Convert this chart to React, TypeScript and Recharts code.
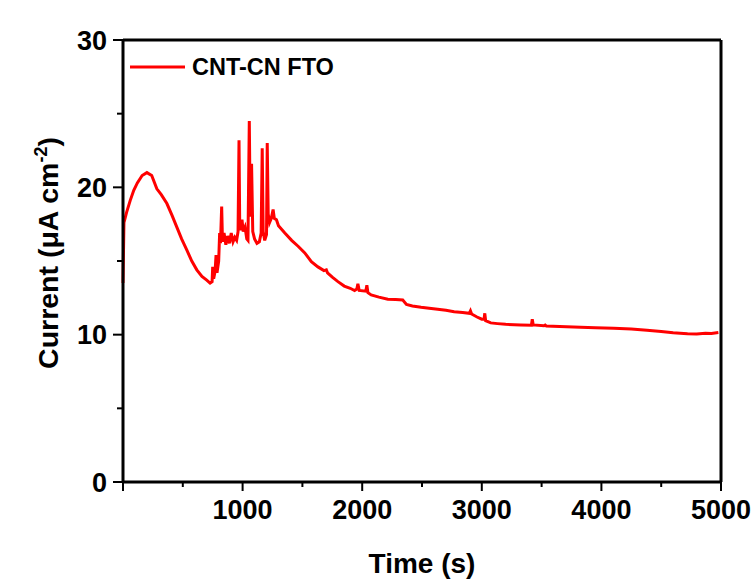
import React from 'react';
import { LineChart, Line, XAxis, YAxis, ReferenceLine, Legend } from 'recharts';

const timeValues = [
  0, 8, 30, 60, 90, 120, 160, 200, 240, 283, 320, 367, 410, 450, 490, 533, 575, 617, 660, 700,
  728, 745, 750, 758, 770, 778, 786, 800, 808, 815, 825, 832, 845, 860, 875, 890, 905, 920, 935, 950,
  962, 970, 976, 985, 995, 1005, 1020, 1035, 1045, 1056, 1064, 1075, 1085, 1100, 1120, 1140, 1155, 1164, 1172, 1185,
  1200, 1206, 1214, 1225, 1240, 1255, 1265, 1283, 1300, 1353, 1410, 1464, 1520, 1575, 1630, 1680, 1700, 1710, 1750, 1797,
  1850, 1900, 1936, 1955, 1964, 1975, 2030, 2039, 2048, 2075, 2140, 2214, 2280, 2339, 2370, 2420, 2492, 2560, 2631, 2700,
  2769, 2840, 2895, 2905, 2915, 2960, 3000, 3019, 3025, 3032, 3075, 3131, 3200, 3325, 3415, 3422, 3430, 3519, 3530, 3540,
  3650, 3825, 3950, 4103, 4250, 4381, 4500, 4600, 4658, 4720, 4797, 4870, 4920, 4978,
];

const currentValues = [
  13.5, 17.6, 18.3, 19.1, 19.8, 20.3, 20.8, 21.0, 20.8, 19.9, 19.5, 18.9, 18.1, 17.3, 16.5, 15.75, 15.0, 14.4, 13.95, 13.7,
  13.5, 13.6, 14.6, 13.8, 14.3, 15.4, 14.2, 15.0, 16.9, 16.2, 18.7, 16.3, 16.9, 16.1, 16.7, 16.2, 16.9, 16.3, 16.6, 16.4,
  17.0, 23.2, 17.4, 17.1, 17.8, 17.0, 17.3, 16.5, 16.4, 24.5, 18.0, 21.6, 17.0, 16.5, 16.2, 16.3, 16.9, 22.65, 17.0, 16.4,
  16.8, 23.0, 18.2, 17.6, 17.9, 18.5, 17.9, 17.8, 17.4, 16.9, 16.4, 16.0, 15.55, 14.95, 14.6, 14.35, 14.4, 14.2, 13.9, 13.6,
  13.3, 13.15, 13.0, 13.1, 13.45, 13.0, 12.95, 13.35, 12.85, 12.7, 12.55, 12.4, 12.38, 12.35, 12.05, 11.95, 11.86, 11.8, 11.72, 11.65,
  11.56, 11.5, 11.45, 11.62, 11.4, 11.2, 11.05, 11.05, 11.45, 10.95, 10.8, 10.75, 10.7, 10.66, 10.64, 11.05, 10.66, 10.6, 10.65, 10.58,
  10.55, 10.5, 10.47, 10.43, 10.38, 10.3, 10.22, 10.13, 10.1, 10.06, 10.05, 10.1, 10.08, 10.15,
];

const xTicks = [0, 500, 1000, 1500, 2000, 2500, 3000, 3500, 4000, 4500, 5000];
const yTicks = [0, 5, 10, 15, 20, 25, 30];
const seriesName = 'CNT-CN FTO';

const data = timeValues.map((t, i) => ({ t, v: currentValues[i] }));

const FONT = '"Liberation Sans", Arial, Helvetica, sans-serif';

const XTick = (props: any) => {
  const { x, y, payload } = props;
  const v = payload.value;
  const major = v % 1000 === 0;
  return (
    <g>
      <line x1={x} x2={x} y1={y} y2={y + (major ? 9 : 5)} stroke="#000" strokeWidth={2} />
      {major && v !== 0 && (
        <text x={x} y={y + 37} textAnchor="middle" fontFamily={FONT} fontWeight="bold" fontSize={27} fill="#000">
          {v}
        </text>
      )}
    </g>
  );
};

const YTick = (props: any) => {
  const { x, y, payload } = props;
  const v = payload.value;
  const major = v % 10 === 0;
  return (
    <g>
      <line x1={x - (major ? 10 : 6)} x2={x} y1={y} y2={y} stroke="#000" strokeWidth={2} />
      {major && (
        <text x={x - 16} y={y + 9.5} textAnchor="end" fontFamily={FONT} fontWeight="bold" fontSize={27} fill="#000">
          {v}
        </text>
      )}
    </g>
  );
};

const LegendContent = () => (
  <svg width={240} height={30} style={{ display: 'block' }}>
    <line x1={2} x2={57} y1={15} y2={15} stroke="#ff0000" strokeWidth={3} />
    <text x={64} y={23} fontFamily={FONT} fontWeight="bold" fontSize={23.5} fill="#000">
      {seriesName}
    </text>
  </svg>
);

const YLabel = (props: any) => {
  const vb = props.viewBox || { x: 0, y: 40, width: 123, height: 442 };
  const cx = 58;
  const cy = vb.y + vb.height / 2 - 8;
  return (
    <text
      x={cx}
      y={cy}
      transform={`rotate(-90, ${cx}, ${cy})`}
      textAnchor="middle"
      fontFamily={FONT}
      fontWeight="bold"
      fontSize={28.5}
      fill="#000"
    >
      Current (μA cm<tspan dy={-11} fontSize={18}>-2</tspan>
      <tspan dy={11}>)</tspan>
    </text>
  );
};

const XLabel = (props: any) => {
  const vb = props.viewBox || { x: 123, y: 482, width: 598, height: 101 };
  return (
    <text x={vb.x + vb.width / 2} y={573} textAnchor="middle" fontFamily={FONT} fontWeight="bold" fontSize={28} fill="#000">
      Time (s)
    </text>
  );
};

export default function App() {
  return (
    <div style={{ position: 'absolute', left: 0, top: 0, width: 753, height: 583, background: '#fff' }}>
      <LineChart width={753} height={583} data={data} margin={{ top: 40, right: 32, left: 0, bottom: 0 }}>
        <XAxis
          dataKey="t"
          type="number"
          domain={[0, 5000]}
          ticks={xTicks}
          interval={0}
          tickSize={0}
          tickMargin={0}
          tickLine={false}
          tick={<XTick />}
          axisLine={{ stroke: '#000', strokeWidth: 3 }}
          height={101}
          label={<XLabel />}
        />
        <YAxis
          type="number"
          domain={[0, 30]}
          ticks={yTicks}
          interval={0}
          tickSize={0}
          tickMargin={0}
          tickLine={false}
          tick={<YTick />}
          axisLine={{ stroke: '#000', strokeWidth: 3 }}
          width={123}
          label={<YLabel />}
        />
        <ReferenceLine y={30} stroke="#000" strokeWidth={3} ifOverflow="visible" />
        <ReferenceLine x={5000} stroke="#000" strokeWidth={3} ifOverflow="visible" />
        <Legend
          layout="horizontal"
          verticalAlign="middle"
          align="center"
          content={<LegendContent />}
          wrapperStyle={{ position: 'absolute', top: 52, left: 128, width: 240, height: 30 }}
        />
        <Line
          type="linear"
          dataKey="v"
          name={seriesName}
          stroke="#ff0000"
          strokeWidth={3}
          dot={false}
          isAnimationActive={false}
        />
      </LineChart>
    </div>
  );
}
